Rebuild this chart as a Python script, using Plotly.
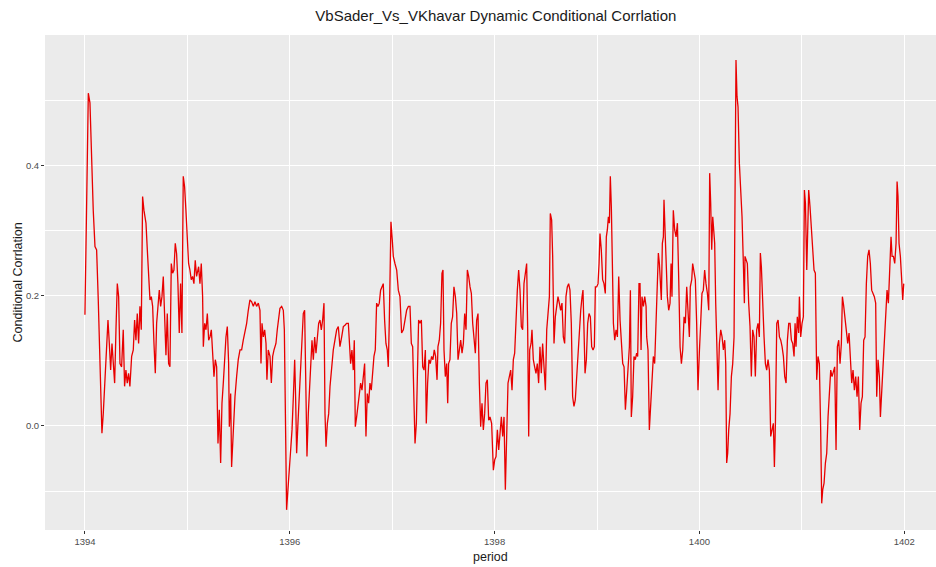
import plotly.graph_objects as go

# ---- data: period (Solar Hijri year, fractional) and dynamic conditional correlation ----
period_a = [1394.000,1394.033,1394.049,1394.065,1394.081,1394.098,1394.114,1394.130,1394.146,1394.156,
            1394.166,1394.179,1394.195,1394.212,1394.225,1394.238,1394.251,1394.264,1394.277,1394.290,
            1394.303,1394.316,1394.329,1394.342,1394.358,1394.374,1394.387,1394.400,1394.413,1394.426,
            1394.439,1394.456,1394.472,1394.485,1394.498,1394.511,1394.524,1394.537,1394.550,1394.563,
            1394.576,1394.596,1394.609,1394.622,1394.635,1394.648,1394.661,1394.674,1394.687,1394.700,
            1394.713,1394.726,1394.739,1394.752,1394.765,1394.778,1394.791,1394.804,1394.817,1394.830,
            1394.843,1394.856,1394.869,1394.882,1394.895,1394.908,1394.921,1394.934,1394.947,1394.960,
            1394.973,1394.986,1394.999,1395.012,1395.025,1395.038,1395.051,1395.064,1395.077,1395.090,
            1395.110,1395.123]
dcc_a = [0.171,0.512,0.497,0.394,0.332,0.276,0.271,0.194,0.117,0.045,
         -0.011,0.019,0.066,0.117,0.163,0.127,0.086,0.127,0.096,0.066,
         0.148,0.219,0.199,0.096,0.091,0.148,0.061,0.086,0.066,0.081,
         0.061,0.107,0.117,0.163,0.132,0.173,0.127,0.184,0.148,0.353,
         0.332,0.312,0.271,0.219,0.194,0.199,0.184,0.127,0.081,0.158,
         0.189,0.209,0.184,0.199,0.230,0.163,0.109,0.173,0.096,0.091,
         0.250,0.235,0.240,0.281,0.265,0.219,0.143,0.219,0.143,0.384,
         0.368,0.332,0.291,0.250,0.240,0.225,0.230,0.219,0.255,0.230,
         0.245,0.219]

period_b = [1395.136,1395.149,1395.156,1395.169,1395.182,1395.195,1395.208,1395.221,1395.234,1395.247,
            1395.260,1395.273,1395.286,1395.299,1395.312,1395.325,1395.338,1395.351,1395.364,1395.377,
            1395.390,1395.403,1395.410,1395.423,1395.432,1395.449,1395.465,1395.481,1395.497,1395.514,
            1395.530,1395.546,1395.562,1395.579,1395.595,1395.611,1395.628,1395.644,1395.660,1395.676,
            1395.693,1395.709,1395.719,1395.729,1395.742,1395.755,1395.768,1395.777,1395.790,1395.807,
            1395.820,1395.833,1395.846,1395.865,1395.878,1395.891,1395.904,1395.921,1395.937,1395.947,
            1395.956,1395.969,1395.982,1395.996,1396.009,1396.022,1396.035,1396.048,1396.057,1396.067,
            1396.080,1396.093,1396.106,1396.119,1396.132,1396.145,1396.158,1396.168,1396.181,1396.191,
            1396.204,1396.217,1396.230,1396.243,1396.256,1396.269,1396.282,1396.295,1396.308,1396.321,
            1396.334,1396.344,1396.354,1396.367,1396.380,1396.393,1396.409,1396.425,1396.441,1396.458,
            1396.474]
dcc_b = [0.250,0.199,0.122,0.158,0.148,0.173,0.132,0.137,0.148,0.117,
         0.076,0.102,0.091,-0.027,0.025,-0.057,0.035,0.066,0.107,0.137,
         0.153,0.096,-0.001,0.050,-0.063,-0.006,0.045,0.076,0.102,0.117,
         0.117,0.132,0.143,0.158,0.178,0.194,0.191,0.184,0.191,0.184,
         0.189,0.178,0.096,0.158,0.137,0.148,0.127,0.071,0.117,0.107,
         0.066,0.107,0.117,0.127,0.148,0.168,0.181,0.184,0.178,0.148,
         0.019,-0.129,-0.098,-0.068,-0.037,-0.006,0.045,0.102,0.045,-0.042,
         0.004,0.045,0.086,0.117,0.173,0.178,0.019,-0.047,0.019,0.055,
         0.096,0.132,0.102,0.137,0.112,0.137,0.158,0.163,0.148,0.163,
         0.189,0.019,-0.032,0.004,0.019,0.061,0.096,0.117,0.132,0.148,
         0.153]

period_c = [1396.490,1396.507,1396.523,1396.539,1396.555,1396.572,1396.581,1396.594,1396.607,1396.620,
            1396.630,1396.640,1396.653,1396.666,1396.679,1396.692,1396.705,1396.718,1396.731,1396.744,
            1396.757,1396.770,1396.783,1396.796,1396.809,1396.822,1396.835,1396.848,1396.861,1396.874,
            1396.887,1396.900,1396.913,1396.926,1396.939,1396.952,1396.962,1396.972,1396.988,1397.001,
            1397.011,1397.027,1397.044,1397.060,1397.076,1397.092,1397.109,1397.125,1397.141,1397.158,
            1397.174,1397.187,1397.200,1397.213,1397.223,1397.236,1397.245,1397.258,1397.271,1397.285,
            1397.298,1397.311,1397.324,1397.333,1397.346,1397.359,1397.372,1397.385,1397.398,1397.411,
            1397.424,1397.438,1397.447,1397.460,1397.473,1397.486,1397.496,1397.506,1397.519,1397.532,
            1397.542,1397.551,1397.564,1397.577,1397.590,1397.603,1397.617,1397.630,1397.643,1397.656,
            1397.669,1397.682,1397.695,1397.708,1397.721,1397.734,1397.747,1397.760,1397.773,1397.786,
            1397.799,1397.812,1397.825,1397.838,1397.851,1397.864,1397.877,1397.890,1397.903,1397.916,
            1397.929,1397.942]
dcc_c = [0.122,0.137,0.153,0.155,0.158,0.158,0.137,0.096,0.117,0.086,
         0.132,-0.001,0.014,0.035,0.050,0.066,0.055,0.076,0.096,-0.016,
         0.050,0.035,0.066,0.055,0.091,0.107,0.117,0.189,0.184,0.189,
         0.209,0.214,0.219,0.163,0.127,0.117,0.091,0.163,0.314,0.286,
         0.261,0.250,0.240,0.209,0.199,0.143,0.148,0.163,0.178,0.184,
         0.184,0.127,0.122,0.035,-0.027,0.004,0.096,0.163,0.158,0.163,
         0.091,0.086,0.117,0.004,0.066,0.102,0.096,0.107,0.102,0.117,
         0.107,0.071,0.122,0.132,0.158,0.235,0.240,0.117,0.076,0.096,
         0.035,0.096,0.102,0.158,0.168,0.214,0.199,0.173,0.102,0.117,
         0.132,0.112,0.127,0.173,0.148,0.240,0.230,0.214,0.204,0.158,
         0.127,0.112,0.163,0.173,0.066,-0.001,0.035,-0.006,0.019,0.066,
         0.071,0.009]

period_d = [1397.955,1397.971,1397.988,1398.001,1398.014,1398.027,1398.040,1398.053,1398.066,1398.079,
            1398.092,1398.105,1398.118,1398.131,1398.144,1398.157,1398.170,1398.183,1398.196,1398.209,
            1398.222,1398.235,1398.248,1398.261,1398.274,1398.287,1398.300,1398.313,1398.323,1398.333,
            1398.343,1398.356,1398.365,1398.378,1398.391,1398.404,1398.417,1398.430,1398.443,1398.456,
            1398.469,1398.482,1398.496,1398.509,1398.522,1398.535,1398.544,1398.557,1398.567,1398.580,
            1398.593,1398.606,1398.619,1398.632,1398.645,1398.658,1398.671,1398.684,1398.697,1398.710,
            1398.723,1398.736,1398.749,1398.762,1398.775,1398.788,1398.802,1398.815,1398.828,1398.841,
            1398.854,1398.863,1398.873,1398.883,1398.896,1398.909,1398.922,1398.935,1398.948,1398.961,
            1398.974,1398.984,1398.997,1399.010,1399.020,1399.029,1399.042,1399.055,1399.068,1399.081,
            1399.091,1399.101,1399.111,1399.121,1399.130,1399.140,1399.150,1399.160,1399.173,1399.186,
            1399.199,1399.212,1399.225,1399.238,1399.251,1399.264,1399.277,1399.290,1399.303,1399.316,
            1399.326,1399.335,1399.348,1399.361,1399.374,1399.387,1399.397,1399.410]
dcc_d = [0.014,0.004,-0.068,-0.052,-0.047,-0.006,-0.037,-0.006,0.014,-0.016,
         0.014,-0.098,-0.006,0.066,0.076,0.086,0.055,0.102,0.112,0.173,
         0.209,0.240,0.209,0.153,0.148,0.219,0.240,0.250,0.148,-0.016,
         0.117,0.127,0.148,0.102,0.091,0.081,0.096,0.066,0.122,0.081,
         0.127,0.096,0.055,0.148,0.173,0.199,0.327,0.317,0.261,0.127,
         0.168,0.189,0.199,0.189,0.178,0.189,0.137,0.127,0.199,0.214,
         0.219,0.209,0.158,0.045,0.030,0.040,0.076,0.117,0.158,0.178,
         0.199,0.209,0.148,0.081,0.102,0.158,0.173,0.168,0.122,0.117,
         0.122,0.214,0.214,0.219,0.250,0.296,0.271,0.225,0.219,0.204,
         0.291,0.302,0.322,0.312,0.384,0.337,0.250,0.158,0.132,0.148,
         0.137,0.230,0.163,0.117,0.096,0.091,0.025,0.055,0.096,0.122,
         0.209,0.014,0.045,0.107,0.102,0.112,0.107,0.219]

period_e = [1399.420,1399.430,1399.439,1399.453,1399.466,1399.479,1399.485,1399.498,1399.511,1399.524,
            1399.537,1399.550,1399.563,1399.576,1399.589,1399.599,1399.609,1399.619,1399.628,1399.638,
            1399.648,1399.654,1399.664,1399.674,1399.687,1399.700,1399.713,1399.723,1399.732,1399.745,
            1399.758,1399.772,1399.785,1399.798,1399.811,1399.824,1399.837,1399.850,1399.863,1399.876,
            1399.889,1399.902,1399.911,1399.925,1399.934,1399.947,1399.960,1399.973,1399.986,1399.999,
            1400.012,1400.025,1400.038,1400.051,1400.064,1400.078,1400.091,1400.100,1400.110,1400.120,
            1400.130,1400.139,1400.149,1400.159,1400.169,1400.182,1400.195,1400.208,1400.221,1400.234,
            1400.247,1400.257,1400.266,1400.276,1400.286,1400.299,1400.312,1400.325,1400.338,1400.348,
            1400.357,1400.367,1400.377,1400.390,1400.403,1400.416,1400.429,1400.439,1400.445,1400.455,
            1400.468,1400.481,1400.494,1400.507,1400.520,1400.533,1400.546,1400.559,1400.572,1400.585,
            1400.595,1400.605,1400.618,1400.631,1400.644,1400.657,1400.670,1400.683,1400.696,1400.709,
            1400.722,1400.732,1400.742,1400.755,1400.768,1400.781,1400.794,1400.807,1400.820,1400.833,
            1400.846,1400.859,1400.872]
dcc_e = [0.219,0.117,0.199,0.184,0.199,0.184,0.137,0.117,-0.006,0.040,
         0.066,0.107,0.096,0.158,0.189,0.266,0.250,0.209,0.194,0.281,
         0.291,0.348,0.302,0.261,0.199,0.178,0.189,0.250,0.199,0.332,
         0.302,0.291,0.312,0.225,0.122,0.096,0.117,0.168,0.158,0.214,
         0.173,0.137,0.214,0.225,0.250,0.235,0.225,0.158,0.055,0.112,
         0.163,0.204,0.209,0.240,0.219,0.204,0.178,0.389,0.343,0.271,
         0.322,0.302,0.281,0.189,0.117,0.055,0.127,0.148,0.137,0.117,
         0.132,0.096,-0.057,-0.042,-0.006,0.019,0.076,0.096,0.137,0.302,
         0.563,0.507,0.491,0.404,0.363,0.322,0.250,0.189,0.261,0.256,
         0.250,0.189,0.153,0.076,0.148,0.137,0.076,0.148,0.158,0.137,
         0.266,0.245,0.173,0.137,0.096,0.086,0.102,0.086,-0.016,-0.006,
         0.004,-0.063,0.004,0.158,0.163,0.137,0.132,0.122,0.107,0.076,
         0.066,0.132,0.158]

period_f = [1400.885,1400.898,1400.911,1400.924,1400.934,1400.943,1400.956,1400.969,1400.976,1400.989,
            1401.002,1401.015,1401.025,1401.035,1401.048,1401.057,1401.067,1401.080,1401.093,1401.106,
            1401.119,1401.132,1401.145,1401.158,1401.171,1401.184,1401.194,1401.204,1401.217,1401.230,
            1401.243,1401.256,1401.269,1401.282,1401.295,1401.308,1401.321,1401.334,1401.347,1401.360,
            1401.373,1401.386,1401.396,1401.409,1401.422,1401.435,1401.448,1401.461,1401.474,1401.487,
            1401.500,1401.513,1401.526,1401.539,1401.552,1401.565,1401.578,1401.591,1401.604,1401.617,
            1401.630,1401.643,1401.656,1401.669,1401.682,1401.695,1401.708,1401.721,1401.731,1401.744,
            1401.757,1401.767,1401.780,1401.793,1401.806,1401.819,1401.832,1401.845,1401.858,1401.871,
            1401.881,1401.894,1401.907,1401.920,1401.930,1401.939,1401.949,1401.962,1401.975,1401.985,
            1401.995]
dcc_f = [0.158,0.132,0.127,0.107,0.158,0.122,0.168,0.143,0.199,0.137,
         0.158,0.168,0.363,0.343,0.240,0.322,0.363,0.337,0.302,0.261,
         0.240,0.235,0.071,0.107,0.096,-0.006,-0.119,-0.098,-0.088,-0.057,
         -0.042,0.014,0.055,0.086,0.076,0.086,0.091,-0.037,0.122,0.132,
         0.096,0.127,0.199,0.184,0.163,0.148,0.127,0.143,0.096,0.066,
         0.086,0.055,0.076,0.045,0.076,-0.006,0.035,0.045,0.132,0.137,
         0.219,0.261,0.271,0.250,0.209,0.204,0.199,0.189,0.045,0.102,
         0.076,0.014,0.055,0.076,0.117,0.158,0.209,0.189,0.250,0.291,
         0.261,0.261,0.250,0.281,0.376,0.353,0.281,0.261,0.225,0.194,
         0.219]

x_tick_vals = [1394, 1396, 1398, 1400, 1402]
y_tick_vals = [0.0, 0.2, 0.4]

title_text = "VbSader_Vs_VKhavar Dynamic Conditional Corrlation"
x_title = "period"
y_title = "Conditional Corrlation"

period = period_a + period_b + period_c + period_d + period_e + period_f
dcc = dcc_a + dcc_b + dcc_c + dcc_d + dcc_e + dcc_f

FONT = "Liberation Sans, Arial, sans-serif"

fig = go.Figure()
fig.add_trace(go.Scatter(x=period, y=dcc, mode="lines",
                         line=dict(color="#E80000", width=1.3),
                         hoverinfo="x+y", showlegend=False))

fig.update_layout(
    width=936, height=567, autosize=False,
    margin=dict(l=45, r=0, t=35, b=37),
    paper_bgcolor="white", plot_bgcolor="#EBEBEB",
    font=dict(family=FONT, color="#4D4D4D"),
    title=dict(text=title_text, x=0.506, xref="paper", xanchor="center",
               y=1, yref="container", yanchor="top", pad=dict(t=10),
               font=dict(family=FONT, size=15, color="#1A1A1A")),
    showlegend=False,
)
fig.update_xaxes(
    range=[1393.61, 1402.31], tickvals=x_tick_vals, ticktext=[str(v) for v in x_tick_vals],
    showgrid=True, gridcolor="white", gridwidth=1.3,
    minor=dict(dtick=1, tick0=1394, showgrid=True, gridcolor="white", gridwidth=0.6),
    ticks="outside", ticklen=3, tickcolor="#333333", tickwidth=1,
    tickfont=dict(size=9.5, color="#4D4D4D"), zeroline=False, showline=False,
)
fig.update_yaxes(
    range=[-0.16, 0.6015], tickvals=y_tick_vals, ticktext=["0.0", "0.2", "0.4"],
    showgrid=True, gridcolor="white", gridwidth=1.3,
    minor=dict(dtick=0.1, tick0=0, showgrid=True, gridcolor="white", gridwidth=0.6),
    ticks="outside", ticklen=3, tickcolor="#333333", tickwidth=1,
    tickfont=dict(size=9.5, color="#4D4D4D"), zeroline=False, showline=False,
)
fig.add_annotation(text=x_title, xref="paper", yref="paper", x=0.5, y=0,
                   yshift=-27, xanchor="center", yanchor="middle", showarrow=False,
                   font=dict(family=FONT, size=12.5, color="#1A1A1A"))
fig.add_annotation(text=y_title, xref="paper", yref="paper", x=0, y=0.5,
                   xshift=-28, xanchor="center", yanchor="middle", textangle=-90,
                   showarrow=False, font=dict(family=FONT, size=12.5, color="#1A1A1A"))

fig.write_html("out.html", config={"displayModeBar": False},
               post_script="document.body.style.margin='0';document.body.style.overflow='hidden';")
